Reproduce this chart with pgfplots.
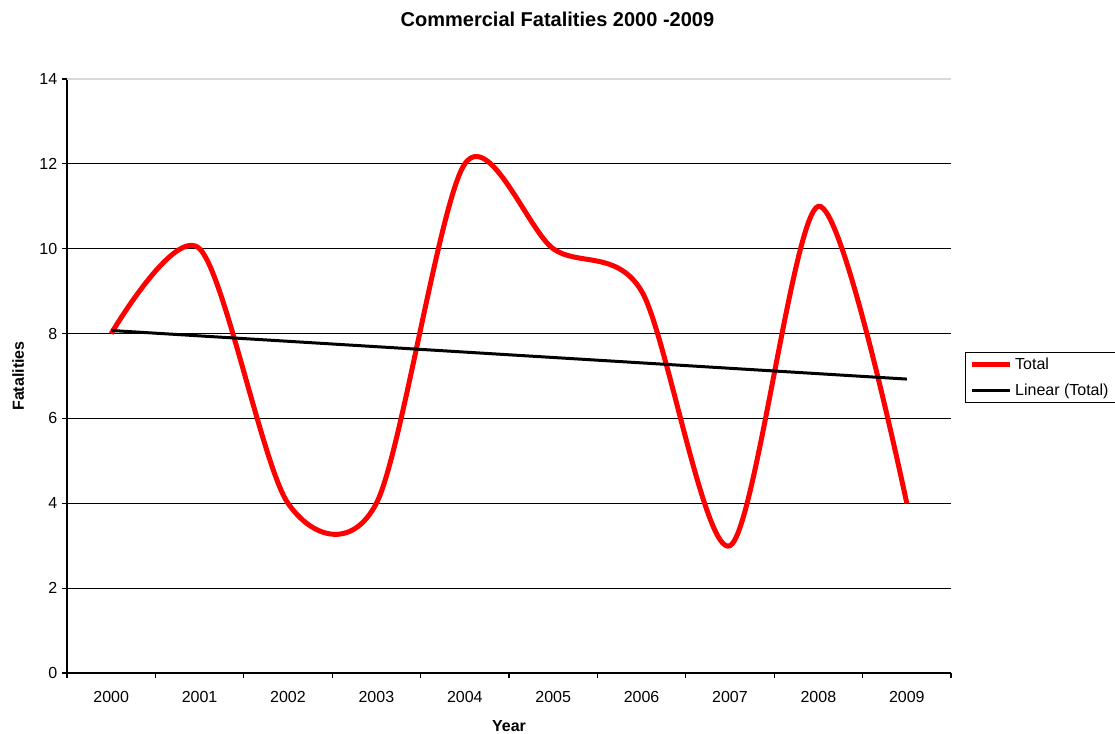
\documentclass[border=0pt]{standalone}
\usepackage{pgfplots}
\usepackage{pgfplotstable}
\pgfplotsset{compat=1.18}
\usepackage{fontspec}
\setmainfont{Liberation Sans}

% Commercial fatalities per year (index 0 = 2000)
\pgfplotstableread{
idx Total
0 8
1 10
2 4
3 4
4 12
5 10
6 9
7 3
8 11
9 4
}\fatalities

\begin{document}
\begin{tikzpicture}
\useasboundingbox (0,0) rectangle (836.25pt,549.75pt);
\node[anchor=base, font=\bfseries\fontsize{15}{18}\selectfont] at (418.1pt,529.7pt) {Commercial Fatalities 2000 -2009};
\begin{axis}[
  at={(50.25pt,45pt)}, anchor=south west,
  scale only axis, width=663pt, height=445.5pt,
  xmin=-0.5, xmax=9.5, ymin=0, ymax=14,
  axis x line=bottom, axis y line=left,
  axis line style={-, black, line width=0.8pt},
  xtick={-0.5,0.5,...,9.5},
  xticklabels={2000,2001,2002,2003,2004,2005,2006,2007,2008,2009},
  x tick label as interval,
  ytick={0,2,...,12},
  extra y ticks={14},
  extra y tick style={grid style={gray!30, line width=0.8pt}},
  tick align=outside,
  major tick length=3.75pt,
  tick style={black, line width=0.8pt},
  ymajorgrids,
  grid style={black, line width=0.9pt},
  /pgf/number format/assume math mode=true,
  ticklabel style={font=\fontsize{12}{14}\selectfont},
  xticklabel style={yshift=-6.5pt},
  xlabel={Year}, ylabel={Fatalities},
  label style={font=\bfseries\fontsize{12}{14}\selectfont},
  xlabel style={anchor=base, at={(axis description cs:0.5,0)}, yshift=-44pt},
  ylabel style={anchor=base, at={(axis description cs:0,0.5)}, yshift=32.25pt},
  legend style={at={(axis description cs:1.0158,0.5404)}, anchor=north west,
    draw=black, line width=0.8pt, font=\fontsize{12}{14}\selectfont,
    inner xsep=3pt, inner ysep=2pt, row sep=5pt,
    cells={anchor=west}},
  legend image code/.code={\draw[#1] (0pt,0pt) -- (28.5pt,0pt);},
]
\addplot[red, line width=3.75pt, smooth] table[x=idx, y=Total] {\fatalities};
\addlegendentry{Total}
\addplot[black, line width=2.25pt] table[x=idx, y={create col/linear regression={y=Total}}] {\fatalities};
\addlegendentry{Linear (Total)\hspace{8pt}}
\end{axis}
\end{tikzpicture}
\end{document}
